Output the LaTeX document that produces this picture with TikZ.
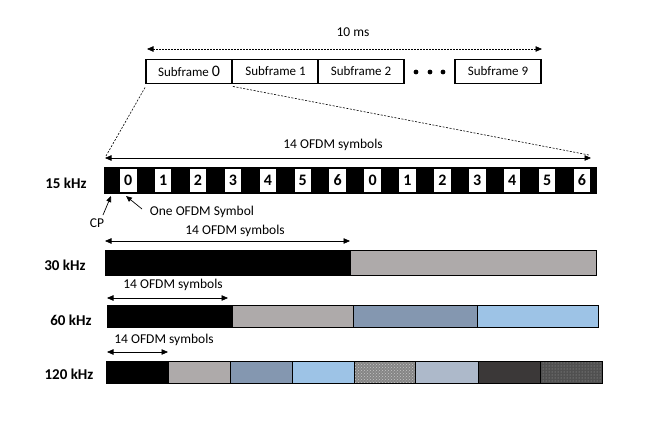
\documentclass[tikz,border=0pt]{standalone}
\usepackage{fontspec}
\setmainfont{Carlito}
\usetikzlibrary{arrows.meta,patterns}
\definecolor{gA}{HTML}{AEAAAA}
\definecolor{bgA}{HTML}{8497B0}
\definecolor{lbA}{HTML}{9DC3E6}
\definecolor{tgA}{HTML}{858585}
\definecolor{sbA}{HTML}{ADB9CA}
\definecolor{dkA}{HTML}{3B3838}
\definecolor{tdA}{HTML}{505050}
\begin{document}
\begin{tikzpicture}[x=1pt,y=-1pt,
  txt/.style={font=\fontsize{13.5}{15}\selectfont, inner sep=0pt},
  lbl/.style={font=\fontsize{15}{17}\selectfont\bfseries, inner sep=0pt},
  sfbox/.style={draw, line width=1.9pt, minimum width=86pt, minimum height=24pt, inner sep=0pt, font=\fontsize{13}{15}\selectfont},
  dimarrow/.style={{Triangle[length=6.5pt,width=5.5pt]}-{Triangle[length=6.5pt,width=5.5pt]}, line width=0.7pt},
  ptr/.style={-{Triangle[length=6pt,width=5pt]}, line width=0.7pt},
  digit/.style={fill=white, minimum width=16.5pt, minimum height=22.5pt, inner sep=0pt, font=\fontsize{16}{17}\selectfont\bfseries},
  seg/.style={draw, line width=1pt},
]
\useasboundingbox (0,0) rectangle (655,441);

% ---- top frame ----
\node[txt] (tenms) at (353,32) {10 ms};
\coordinate (tl) at (147,49);
\coordinate (tr) at (542,49);
\draw[dimarrow, dashed, dash pattern=on 2pt off 1pt] (tl) -- (tr);

\node[sfbox] (sf0) at (189,71.5) {Subframe {\fontsize{16}{16}\selectfont 0}};
\node[sfbox] (sf1) at (275.5,71.5) {Subframe 1};
\node[sfbox] (sf2) at (361,71.5) {Subframe 2};
\node[sfbox] (sf9) at (498,71.5) {Subframe 9};
\fill (416,72) circle (2.4) (430,72) circle (2.4) (443,72) circle (2.4);

% ---- 15 kHz ----
\node[lbl] (l15) at (66,183) {15 kHz};
\node[txt] (t15) at (333,145) {14 OFDM symbols};
\coordinate (a15l) at (105,158);
\coordinate (a15r) at (591,158);
\draw[dimarrow] (a15l) -- (a15r);
\draw[dashed, dash pattern=on 2pt off 1.5pt, line width=0.6pt] ([yshift=-3pt]sf0.south west) -- (106,156);
\draw[dashed, dash pattern=on 2pt off 1.5pt, line width=0.6pt] ([yshift=-2pt]sf0.south east) -- (589,155);

\node[fill=black, minimum width=493pt, minimum height=27pt, inner sep=0pt] (b15) at (350.5,180.5) {};
\foreach \k/\d in {0/0,1/1,2/2,3/3,4/4,5/5,6/6,7/0,8/1,9/2,10/3,11/4,12/5,13/6}{
  \node[digit] (d\k) at ({128.25+34.9*\k},180.5) {\d};
}
\node[txt] (cp) at (97,223) {CP};
\coordinate (cps) at (103,215);
\coordinate (cpt) at (111,196);
\draw[ptr] (cps) -- (cpt);
\node[txt] (one) at (202,212) {One OFDM Symbol};
\coordinate (ones) at (142,209);
\coordinate (onet) at (126,196);
\draw[ptr] (ones) -- (onet);

% ---- 30 kHz ----
\node[lbl] (l30) at (65,265) {30 kHz};
\node[txt] (t30) at (235,231) {14 OFDM symbols};
\coordinate (a30l) at (105,241);
\coordinate (a30r) at (350,241);
\draw[dimarrow] (a30l) -- (a30r);
\fill[black] (105,250) rectangle (351,275);
\fill[gA] (351,250) rectangle (596,275);
\draw[seg] (105,250) rectangle (596,275);

% ---- 60 kHz ----
\node[lbl] (l60) at (71,320) {60 kHz};
\node[txt] (t60) at (173,285) {14 OFDM symbols};
\coordinate (a60l) at (107,298);
\coordinate (a60r) at (228,298);
\draw[dimarrow] (a60l) -- (a60r);
\draw[seg, fill=black] (107,305) rectangle (232,327);
\draw[seg, fill=gA] (232,305) rectangle (353,327);
\draw[seg, fill=bgA] (353,305) rectangle (477,327);
\draw[seg, fill=lbA] (477,305) rectangle (598,327);

% ---- 120 kHz ----
\node[lbl] (l120) at (69,374) {120 kHz};
\node[txt] (t120) at (164,340) {14 OFDM symbols};
\coordinate (a120l) at (107,352);
\coordinate (a120r) at (168,352);
\draw[dimarrow] (a120l) -- (a120r);
\draw[seg, fill=black] (106,361) rectangle (168,383);
\draw[seg, fill=gA] (168,361) rectangle (230,383);
\draw[seg, fill=bgA] (230,361) rectangle (292,383);
\draw[seg, fill=lbA] (292,361) rectangle (354,383);
\fill[tgA] (354,361) rectangle (415,383);
\fill[pattern=crosshatch dots, pattern color=gray!45] (354,361) rectangle (415,383);
\draw[seg] (354,361) rectangle (415,383);
\draw[seg, fill=sbA] (415,361) rectangle (478,383);
\draw[seg, fill=dkA] (478,361) rectangle (540,383);
\fill[tdA] (540,361) rectangle (602,383);
\fill[pattern=dots, pattern color=gray!70] (540,361) rectangle (602,383);
\draw[seg] (540,361) rectangle (602,383);
\end{tikzpicture}
\end{document}
